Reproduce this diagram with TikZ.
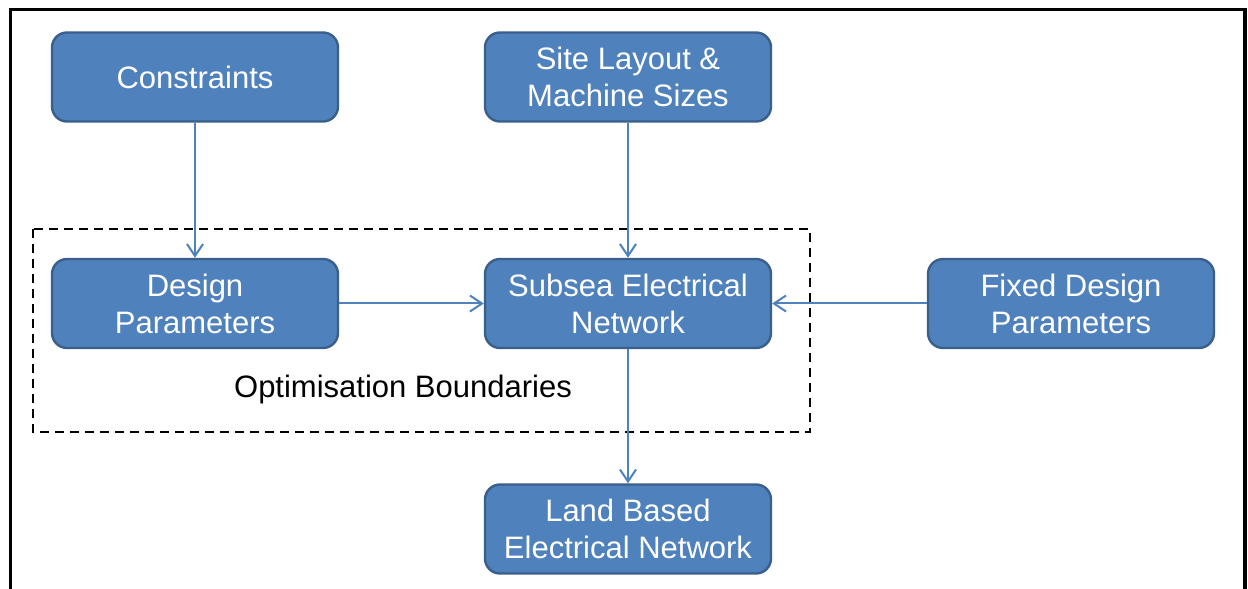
\documentclass[tikz,border=0pt]{standalone}
\usepackage{fontspec}
\setmainfont{Liberation Sans}
\usetikzlibrary{arrows.meta}
\definecolor{boxfill}{HTML}{4F81BD}
\definecolor{boxline}{HTML}{3A5F8B}
\definecolor{arrowblue}{HTML}{4F81BD}
\tikzset{
  block/.style={draw=boxline, line width=2.4bp, fill=boxfill, rounded corners=15bp,
    minimum width=286bp, minimum height=89bp, align=center, text=white,
    font=\fontsize{31bp}{37bp}\selectfont, inner sep=0pt},
  flow/.style={draw=arrowblue, line width=2bp,
    -{Straight Barb[length=12bp,width=16bp,line width=2bp]}},
  boundary/.style={draw=black, line width=2bp, dash pattern=on 9bp off 6bp},
  frame/.style={draw=black, line width=3.5bp}
}
\begin{document}
\begin{tikzpicture}[x=1bp,y=-1bp]
  \useasboundingbox (0,0) rectangle (1248,589);
  \clip (0,0) rectangle (1248,589);
  \fill[white] (0,0) rectangle (1248,589);

  % outer frame, open at the bottom edge
  \draw[frame] (10.5,600) -- (10.5,9.5) -- (1245,9.5) -- (1245,600);

  % optimisation boundary
  \draw[boundary] (33,229) rectangle (810,432);
  \node[font=\fontsize{31bp}{37bp}\selectfont, text=black, inner sep=0pt] (optlabel) at (403,389) {Optimisation Boundaries};

  % blocks
  \node[block] (constraints) at (195,77) {Constraints};
  \node[block] (site) at (628,77) {Site Layout \&\\Machine Sizes};
  \node[block] (design) at (195,303.5) {Design\\Parameters};
  \node[block] (subsea) at (628,303.5) {Subsea Electrical\\Network};
  \node[block] (fixed) at (1071,303.5) {Fixed Design\\Parameters};
  \node[block] (land) at (628,529) {Land Based\\Electrical Network};

  % connectors
  \draw[flow] (constraints) -- (design);
  \draw[flow] (site) -- (subsea);
  \draw[flow] (design) -- (subsea);
  \draw[flow] (fixed) -- (subsea);
  \draw[flow] (subsea) -- (land);
\end{tikzpicture}
\end{document}
